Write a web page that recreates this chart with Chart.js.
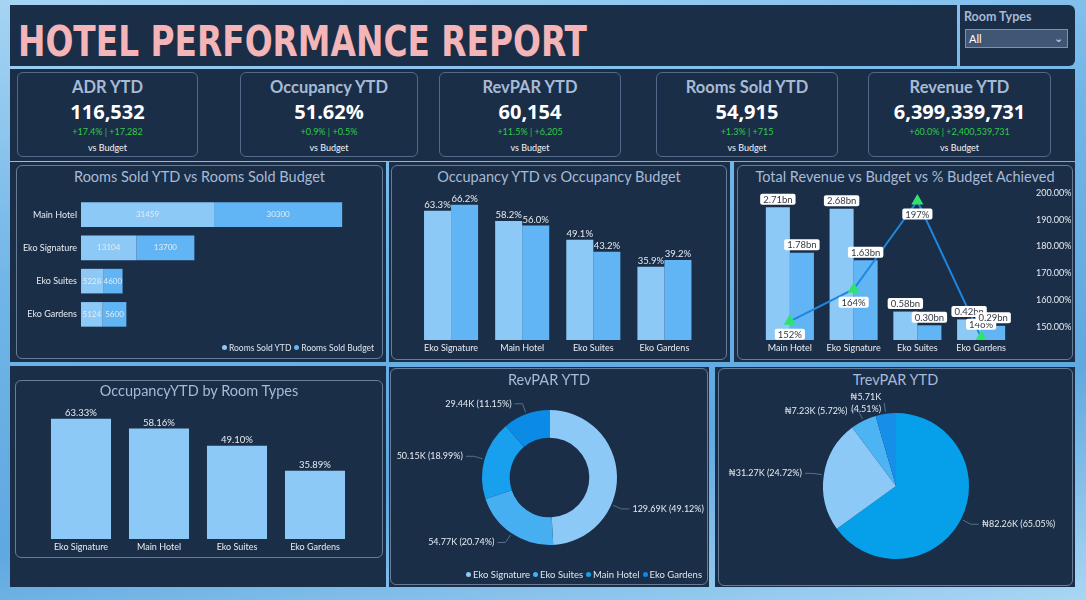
<!DOCTYPE html>
<html>
<head>
<meta charset="utf-8">
<script src="https://cdn.jsdelivr.net/npm/chart.js@4.4.1/dist/chart.umd.min.js"></script>
<style>
  body { margin: 0; width: 1086px; height: 600px; overflow: hidden; position: relative;
         background: linear-gradient(170deg, #a6d4f3 0%, #72b6e8 35%, #5fa8e0 70%, #a9d6f4 100%);
         font-family: Lato, sans-serif; }
  .panel { position: absolute; background: #1a2e48; box-sizing: border-box; }
  .frame { position: absolute; border: 1px solid #667c99; border-radius: 6px; box-sizing: border-box; }
  .title { position: absolute; font-family: Lato, sans-serif; color: #a7bad6; font-size: 14.5px; text-align: center; white-space: nowrap; }
  .kpi { position: absolute; top: 72px; height: 85px; border: 1px solid #53698a; border-radius: 6px; box-sizing: border-box; text-align: center; }
  .kpi div { position: absolute; left: 0; right: 0; white-space: nowrap; }
  .k1 { top: 5px; font-family: Lato, sans-serif; font-weight: bold; font-size: 16.5px; color: #a7bad6; line-height: 18px; }
  .k2 { top: 27px; font-family: "Open Sans", sans-serif; font-weight: bold; font-size: 20px; color: #fff; line-height: 24px; }
  .k3 { top: 53px; font-size: 9px; color: #33cc44; line-height: 12px; }
  .k4 { top: 69px; font-size: 9px; color: #f2f4f7; line-height: 12px; }
  canvas { position: absolute; }
  .legend { position: absolute; font-size: 8.5px; color: #dfe6ef; white-space: nowrap; }
  .legend span.dot { display: inline-block; width: 5px; height: 5px; border-radius: 50%; margin: 0 2px 1px 3px; }
</style>
</head>
<body>
<!-- header -->
<div class="panel" style="left:10px;top:5px;width:947px;height:61px;"></div>
<div id="ttl" style="position:absolute;left:18px;top:20px;font-family:'DejaVu Sans Condensed',sans-serif;font-weight:bold;font-size:43px;line-height:43px;color:#f3b5b7;white-space:nowrap;transform-origin:0 0;">HOTEL PERFORMANCE REPORT</div>
<div class="panel" style="left:960px;top:5px;width:115px;height:61px;border-radius:0 6px 6px 0;"></div>
<div style="position:absolute;left:964px;top:9px;font-family:Lato,sans-serif;font-weight:bold;font-size:12.5px;color:#a7bad6;">Room Types</div>
<div style="position:absolute;left:965px;top:29px;width:103px;height:19px;background:#3f5775;border:1px solid #7f93ad;box-sizing:border-box;color:#fff;font-size:11px;line-height:17px;padding-left:3px;">All<span style="position:absolute;right:4px;top:-1px;font-size:11px;color:#dde;">&#8964;</span></div>

<!-- KPI strip -->
<div class="panel" style="left:10px;top:69px;width:1065px;height:92px;"></div>
<div id="kpis"></div>

<!-- row 2 -->
<div class="panel" style="left:10px;top:162px;width:376px;height:200px;"></div>
<div class="frame" style="left:16px;top:165px;width:367px;height:194px;"></div>
<div class="title" style="left:16px;top:168px;width:367px;">Rooms Sold YTD vs Rooms Sold Budget</div>
<canvas id="c1" width="367" height="194" style="left:16px;top:165px;"></canvas>
<div class="legend" style="right:712px;top:343px;" id="lg1"></div>

<div class="panel" style="left:389px;top:162px;width:341px;height:200px;"></div>
<div class="frame" style="left:391px;top:165px;width:336px;height:195px;"></div>
<div class="title" style="left:391px;top:168px;width:336px;">Occupancy YTD vs Occupancy Budget</div>
<canvas id="c2" width="336" height="195" style="left:391px;top:165px;"></canvas>

<div class="panel" style="left:734px;top:162px;width:341px;height:200px;"></div>
<div class="frame" style="left:737px;top:165px;width:336px;height:195px;"></div>
<div class="title" style="left:737px;top:168px;width:336px;">Total Revenue vs Budget vs % Budget Achieved</div>
<canvas id="c3" width="336" height="195" style="left:737px;top:165px;"></canvas>

<!-- row 3 -->
<div class="panel" style="left:10px;top:366px;width:376px;height:221px;"></div>
<div class="frame" style="left:15px;top:380px;width:368px;height:178px;"></div>
<div class="title" style="left:15px;top:382px;width:368px;">OccupancyYTD by Room Types</div>
<canvas id="c4" width="368" height="178" style="left:15px;top:380px;"></canvas>

<div class="panel" style="left:389px;top:367px;width:320px;height:220px;"></div>
<div class="frame" style="left:390px;top:368px;width:318px;height:217px;"></div>
<div class="title" style="left:390px;top:371px;width:318px;">RevPAR YTD</div>
<canvas id="c5" width="318" height="217" style="left:390px;top:368px;"></canvas>
<div class="legend" style="right:384px;top:569px;font-size:9.5px;" id="lg5"></div>

<div class="panel" style="left:715px;top:367px;width:360px;height:220px;"></div>
<div class="frame" style="left:718px;top:368px;width:355px;height:218px;"></div>
<div class="title" style="left:718px;top:371px;width:355px;">TrevPAR YTD</div>
<canvas id="c6" width="355" height="218" style="left:718px;top:368px;"></canvas>

<script>
// ---- data ----
const kpiTitles = ['ADR YTD', 'Occupancy YTD', 'RevPAR YTD', 'Rooms Sold YTD', 'Revenue YTD'];
const kpiValues = ['116,532', '51.62%', '60,154', '54,915', '6,399,339,731'];
const kpiChanges = ['+17.4% | +17,282', '+0.9% | +0.5%', '+11.5% | +6,205', '+1.3% | +715', '+60.0% | +2,400,539,731'];

const roomCats = ['Main Hotel', 'Eko Signature', 'Eko Suites', 'Eko Gardens'];
const roomsSoldYtd = [31459, 13104, 5228, 5124];
const roomsSoldBudget = [30300, 13700, 4600, 5600];

const occCats = ['Eko Signature', 'Main Hotel', 'Eko Suites', 'Eko Gardens'];
const occYtd = [63.3, 58.2, 49.1, 35.9];
const occBudget = [66.2, 56.0, 43.2, 39.2];

const revCats = ['Main Hotel', 'Eko Signature', 'Eko Suites', 'Eko Gardens'];
const revenueYtd = [2.71, 2.68, 0.58, 0.42];
const revenueBudget = [1.78, 1.63, 0.30, 0.29];
const budgetAchieved = [152, 164, 197, 146];
const pctTicks = [150, 160, 170, 180, 190, 200];

const typeCats = ['Eko Signature', 'Main Hotel', 'Eko Suites', 'Eko Gardens'];
const occByType = [63.33, 58.16, 49.10, 35.89];

const revparCats = ['Eko Signature', 'Eko Suites', 'Main Hotel', 'Eko Gardens'];
const revparValues = [129.69, 54.77, 50.15, 29.44];
const revparShares = [49.12, 20.74, 18.99, 11.15];

const trevparCats = ['Main Hotel', 'Eko Signature', 'Eko Suites', 'Eko Gardens'];
const trevparValues = [82.26, 31.27, 7.23, 5.71];
const trevparShares = [65.05, 24.72, 5.72, 4.51];

// ---- colours / layout ----
const LIGHT = '#8dc9f7', MID = '#62b5f4';
const donutColors = ['#8dc9f7', '#45aff2', '#18a0ee', '#0b8ae6'];
const pieColors = ['#06a0ea', '#8dc9f7', '#4db4f4', '#168fe8'];
const TXT = '#e6ebf2';
const FONT = 'Lato, sans-serif';
const kpiBoxes = [[17, 181], [240, 178], [439, 182], [656, 182], [868, 183]];

Chart.defaults.animation = false;
Chart.defaults.responsive = false;
Chart.defaults.font.family = FONT;
Chart.defaults.plugins.legend.display = false;
Chart.defaults.plugins.tooltip.enabled = false;

// squeeze the header title to the reference width
const ttl = document.getElementById('ttl');
ttl.style.transform = 'scaleX(' + (569 / ttl.getBoundingClientRect().width) + ')';

// KPI cards
const kpiWrap = document.getElementById('kpis');
kpiTitles.forEach((t, i) => {
    const d = document.createElement('div');
    d.className = 'kpi';
    d.style.left = kpiBoxes[i][0] + 'px';
    d.style.width = kpiBoxes[i][1] + 'px';
    d.innerHTML = `<div class="k1">${t}</div><div class="k2">${kpiValues[i]}</div>` +
                  `<div class="k3">${kpiChanges[i]}</div><div class="k4">vs Budget</div>`;
    kpiWrap.appendChild(d);
});

function legendHtml(names, colors) {
    return names.map((n, i) => `<span class="dot" style="background:${colors[i]}"></span>${n}`).join('');
}
document.getElementById('lg1').innerHTML = legendHtml(['Rooms Sold YTD', 'Rooms Sold Budget'], [LIGHT, MID]);
document.getElementById('lg5').innerHTML = legendHtml(revparCats, donutColors);

// value labels on bars
function barLabels(format, mode, size) {
    return {
        id: 'barLabels',
        afterDatasetsDraw(chart) {
            const ctx = chart.ctx;
            ctx.save();
            ctx.font = size + 'px ' + FONT;
            ctx.fillStyle = TXT;
            ctx.textAlign = 'center';
            chart.data.datasets.forEach((ds, di) => {
                const meta = chart.getDatasetMeta(di);
                meta.data.forEach((el, i) => {
                    const txt = format(ds.data[i]);
                    if (mode === 'inside') {
                        ctx.textBaseline = 'middle';
                        ctx.fillText(txt, (el.x + el.base) / 2, el.y);
                    } else {
                        ctx.textBaseline = 'bottom';
                        ctx.fillText(txt, el.x, el.y - 1);
                    }
                });
            });
            ctx.restore();
        }
    };
}

function whiteBox(ctx, txt, cx, cy) {
    const w = ctx.measureText(txt).width + 6, h = 11;
    ctx.fillStyle = '#ffffff';
    ctx.beginPath();
    if (ctx.roundRect) ctx.roundRect(cx - w / 2, cy - h / 2, w, h, 2);
    else ctx.rect(cx - w / 2, cy - h / 2, w, h);
    ctx.fill();
    ctx.fillStyle = '#333a44';
    ctx.fillText(txt, cx, cy + 0.5);
}

const comboLabels = {
    id: 'comboLabels',
    afterDatasetsDraw(chart) {
        const ctx = chart.ctx;
        const area = chart.chartArea;
        ctx.save();
        ctx.font = '9.5px ' + FONT;
        ctx.textAlign = 'center';
        ctx.textBaseline = 'middle';
        chart.data.datasets.forEach((ds, di) => {
            const meta = chart.getDatasetMeta(di);
            meta.data.forEach((el, i) => {
                const v = ds.data[i];
                if (meta.type === 'bar') {
                    whiteBox(ctx, v.toFixed(2) + 'bn', el.x, el.y - 8);
                } else {
                    let y = el.y + 13;
                    if (y > area.bottom - 5) y = el.y - 13;
                    whiteBox(ctx, v + '%', el.x, y);
                }
            });
        });
        ctx.restore();
    }
};

function arcLabels(textFor) {
    return {
        id: 'arcLabels',
        afterDatasetsDraw(chart) {
            const ctx = chart.ctx;
            const meta = chart.getDatasetMeta(0);
            ctx.save();
            ctx.font = '9px ' + FONT;
            ctx.textBaseline = 'middle';
            ctx.strokeStyle = '#5b6e88';
            ctx.lineWidth = 1;
            ctx.fillStyle = TXT;
            meta.data.forEach((arc, i) => {
                const lines = textFor(i);
                const tw = Math.max(...lines.map(t => ctx.measureText(t).width));
                const r = arc.outerRadius;
                let mid = (arc.startAngle + arc.endAngle) / 2;
                // slide the anchor along the slice until the text fits in the canvas
                const fits = a => {
                    const c = Math.cos(a);
                    const xe = arc.x + c * (r + 11) + (c > 0 ? 11 + tw : -11 - tw);
                    return xe > 4 && xe < chart.width - 4;
                };
                while (!fits(mid) && mid < arc.endAngle - 0.1) mid += 0.02;
                const c = Math.cos(mid), s = Math.sin(mid);
                const x0 = arc.x + c * (r + 2), y0 = arc.y + s * (r + 2);
                const x1 = arc.x + c * (r + 11), y1 = arc.y + s * (r + 11);
                const side = c > 0 ? 1 : -1;
                // near-vertical slices get no horizontal run
                const x2 = Math.abs(c) < 0.2 ? x1 : x1 + side * 8;
                ctx.beginPath();
                ctx.moveTo(x0, y0);
                ctx.lineTo(x1, y1);
                ctx.lineTo(x2, y1);
                ctx.stroke();
                ctx.textAlign = side > 0 ? 'left' : 'right';
                lines.forEach((t, k) => ctx.fillText(t, x2 + side * 3, y1 + (k - (lines.length - 1) / 2) * 12));
            });
            ctx.restore();
        }
    };
}

const noGrid = { display: false, drawTicks: false };
const tickFont = { size: 9, family: FONT };
const catTicks = { color: TXT, font: tickFont, padding: 3, maxRotation: 0, autoSkip: false };

// 1. Rooms sold horizontal stacked
new Chart(document.getElementById('c1'), {
    type: 'bar',
    data: {
        labels: roomCats,
        datasets: [
            { label: 'Rooms Sold YTD', data: roomsSoldYtd, backgroundColor: LIGHT },
            { label: 'Rooms Sold Budget', data: roomsSoldBudget, backgroundColor: MID }
        ]
    },
    options: {
        indexAxis: 'y',
        categoryPercentage: 0.74,
        barPercentage: 1,
        layout: { padding: { top: 33, bottom: 28, right: 6, left: 0 } },
        scales: {
            x: { display: false, stacked: true, min: 0, max: 70000 },
            y: {
                stacked: true, grid: noGrid, border: { display: false },
                ticks: { color: TXT, font: tickFont, padding: 4 },
                afterFit: s => { s.width = 65; }
            }
        }
    },
    plugins: [barLabels(v => String(v), 'inside', 8)]
});

// 2. Occupancy grouped
new Chart(document.getElementById('c2'), {
    type: 'bar',
    data: {
        labels: occCats,
        datasets: [
            { label: 'Occupancy YTD', data: occYtd, backgroundColor: LIGHT },
            { label: 'Occupancy Budget', data: occBudget, backgroundColor: MID }
        ]
    },
    options: {
        categoryPercentage: 0.76,
        barPercentage: 1,
        layout: { padding: { top: 32, bottom: 0, left: 24.5, right: 27 } },
        scales: {
            x: { grid: noGrid, border: { display: false }, ticks: catTicks, afterFit: s => { s.height = 20; } },
            y: { display: false, min: 0, max: 70 }
        }
    },
    plugins: [barLabels(v => v.toFixed(1) + '%', 'top', 9.5)]
});

// 3. Revenue combo
new Chart(document.getElementById('c3'), {
    data: {
        labels: revCats,
        datasets: [
            { type: 'line', label: '% Budget Achieved', data: budgetAchieved, yAxisID: 'y1', order: 0,
              borderColor: '#1f86e0', borderWidth: 2, pointStyle: 'triangle', pointRadius: 5,
              pointBackgroundColor: '#2fe36d', pointBorderColor: '#2fe36d' },
            { type: 'bar', label: 'Total Revenue', data: revenueYtd, backgroundColor: LIGHT, order: 1 },
            { type: 'bar', label: 'Budget', data: revenueBudget, backgroundColor: MID, order: 1 }
        ]
    },
    options: {
        categoryPercentage: 0.754,
        barPercentage: 1,
        layout: { padding: { top: 28, bottom: 0, left: 21, right: 0 } },
        scales: {
            x: { grid: noGrid, border: { display: false }, ticks: catTicks, afterFit: s => { s.height = 20; } },
            y: { display: false, min: 0, max: 3 },
            y1: {
                position: 'right', min: 145, max: 200, grid: noGrid, border: { display: false },
                afterBuildTicks: a => { a.ticks = pctTicks.map(v => ({ value: v })); },
                ticks: { color: TXT, font: { size: 9, family: FONT }, padding: 23, callback: v => v.toFixed(2) + '%' },
                afterFit: s => { s.width = 60; s.paddingTop = 0; s.paddingBottom = 0; }
            }
        }
    },
    plugins: [comboLabels]
});

// 4. Occupancy by room types
new Chart(document.getElementById('c4'), {
    type: 'bar',
    data: {
        labels: typeCats,
        datasets: [{ label: 'OccupancyYTD', data: occByType, backgroundColor: LIGHT }]
    },
    options: {
        categoryPercentage: 0.77,
        barPercentage: 1,
        layout: { padding: { top: 26, bottom: 0, left: 27, right: 29 } },
        scales: {
            x: { grid: noGrid, border: { display: false }, ticks: catTicks, afterFit: s => { s.height = 19; } },
            y: { display: false, min: 0, max: 70 }
        }
    },
    plugins: [barLabels(v => v.toFixed(2) + '%', 'top', 9.5)]
});

// 5. RevPAR donut
new Chart(document.getElementById('c5'), {
    type: 'doughnut',
    data: {
        labels: revparCats,
        datasets: [{ data: revparValues, backgroundColor: donutColors, borderWidth: 0 }]
    },
    options: {
        cutout: '59%',
        layout: { padding: { left: 92, right: 91, top: 42, bottom: 40 } }
    },
    plugins: [arcLabels(i => [revparValues[i].toFixed(2) + 'K (' + revparShares[i].toFixed(2) + '%)'])]
});

// 6. TrevPAR pie
new Chart(document.getElementById('c6'), {
    type: 'pie',
    data: {
        labels: trevparCats,
        datasets: [{ data: trevparValues, backgroundColor: pieColors, borderWidth: 0 }]
    },
    options: {
        layout: { padding: { left: 105, right: 104, top: 45, bottom: 27 } }
    },
    plugins: [arcLabels(i => {
        const v = '\u20A6' + trevparValues[i].toFixed(2) + 'K', p = '(' + trevparShares[i].toFixed(2) + '%)';
        return trevparShares[i] < 5 ? [v, p] : [v + ' ' + p];
    })]
});
</script>
</body>
</html>
